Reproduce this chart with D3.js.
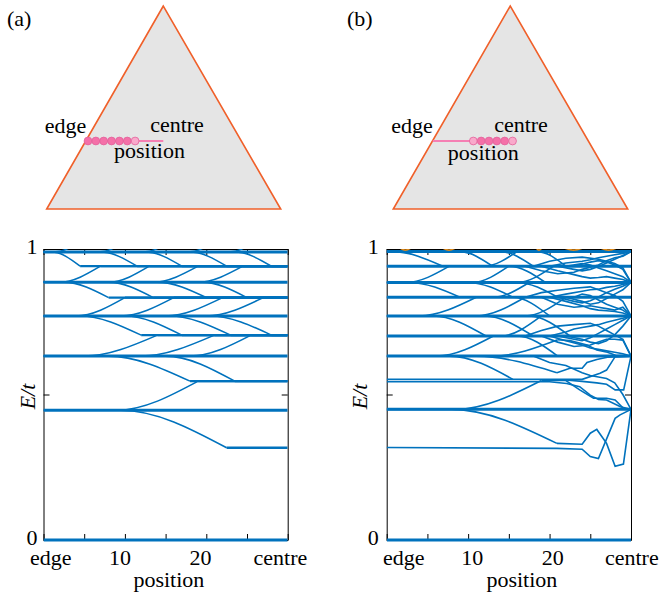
<!DOCTYPE html>
<html>
<head>
<meta charset="utf-8">
<script src="https://cdn.jsdelivr.net/npm/d3@7"></script>
<style>
  body { margin: 0; background: #fff; }
  text { font-family: "Liberation Serif", "Tinos", "Times New Roman", "DejaVu Serif", serif; font-size: 22px; fill: #000; }
</style>
</head>
<body>
<svg id="fig" width="661" height="597" font-family="Liberation Serif, Tinos, Times New Roman, DejaVu Serif, serif"></svg>
<script>
// ---- data ----
// position along the chain runs 0 (edge) .. 30 (centre), energy E/t runs 0 .. 1
const posTicks = [0, 5, 10, 15, 20, 25, 30];
const energyTicks = [0, 0.5, 1];
const energyLabels = ["0", "1"];
const xLabels = ["edge", "10", "20", "centre"];
const xLabelPosA = [0.9, 9.4, 19.3, 29.1];
const xLabelPosB = [2.1, 10.5, 20.4, 30.1];

// panel (a): levels that stay flat the whole way
const flatA = [0.990, 0.886, 0.770, 0.632, 0.446, 0];
// panel (a): branches peeling off a level [E start, pos start, E end, pos end]
const branchA = [
  [0.990, 1.0, 0.941, 4.5], [0.990, 7.0, 0.941, 11.5], [0.990, 12.5, 0.941, 17.0], [0.990, 18.0, 0.941, 22.5], [0.990, 23.5, 0.941, 28.0],
  [0.990, 1.5, 1.040, 5.0], [0.990, 7.0, 1.040, 10.5], [0.990, 12.5, 1.040, 16.0], [0.990, 18.0, 1.040, 21.5], [0.990, 23.0, 1.040, 26.5],
  [0.886, 2.0, 0.941, 7.0], [0.886, 8.0, 0.941, 13.0], [0.886, 13.5, 0.941, 19.0], [0.886, 19.0, 0.941, 24.5],
  [0.886, 2.5, 0.833, 8.0], [0.886, 8.0, 0.833, 13.5], [0.886, 14.0, 0.833, 20.0], [0.886, 19.5, 0.833, 25.0],
  [0.770, 4.0, 0.833, 10.0], [0.770, 9.5, 0.833, 16.0], [0.770, 15.0, 0.833, 22.0], [0.770, 20.0, 0.833, 27.0],
  [0.770, 4.5, 0.704, 12.0], [0.770, 10.0, 0.704, 17.0], [0.770, 15.5, 0.704, 23.0], [0.770, 20.5, 0.704, 28.0],
  [0.632, 5.0, 0.704, 14.0], [0.632, 12.0, 0.704, 21.0], [0.632, 18.0, 0.704, 25.5],
  [0.632, 8.0, 0.546, 18.0], [0.632, 15.0, 0.546, 23.5],
  [0.446, 9.0, 0.546, 19.0], [0.446, 9.5, 0.317, 22.5]
];

// panel (b)
const flatB = [0.991, 0.941, 0.885, 0.834, 0.770, 0.701, 0.632, 0.449, 0];
const branchB = [
  [0.991, 0.8, 0.941, 6.9], [0.991, 9.0, 0.941, 13.0], [0.991, 14.0, 0.941, 18.0], [0.991, 18.5, 0.941, 22.0],
  [0.885, 2.4, 0.941, 7.7], [0.885, 10.5, 0.941, 15.0], [0.885, 16.0, 0.941, 20.5],
  [0.885, 2.8, 0.834, 9.0], [0.885, 10.0, 0.834, 15.5], [0.885, 16.0, 0.834, 21.0],
  [0.770, 4.0, 0.834, 11.0], [0.770, 11.0, 0.834, 17.0], [0.770, 17.0, 0.834, 22.0],
  [0.770, 5.7, 0.701, 12.2], [0.770, 12.0, 0.701, 18.0], [0.770, 17.5, 0.701, 22.5],
  [0.632, 6.1, 0.701, 13.1], [0.632, 13.0, 0.688, 21.0],
  [0.632, 7.7, 0.552, 15.5], [0.632, 11.0, 0.575, 20.9],
  [0.449, 8.5, 0.548, 19.0], [0.449, 8.0, 0.332, 20.9],
  [0.941, 12.0, 0.991, 16.0], [0.834, 13.0, 0.885, 17.5], [0.701, 14.0, 0.770, 19.0],
  [0.941, 15.0, 0.885, 19.5], [0.834, 15.5, 0.770, 20.0], [0.701, 16.0, 0.632, 21.0]
];
// panel (b): jagged tails near the centre, [pos, E] samples
const tailB = [
  [[20, 0.941], [22, 0.952], [24, 0.958], [25, 0.963], [26, 0.970], [27, 0.975], [28, 0.980], [29, 0.985], [30, 0.991]],
  [[21, 0.941], [23, 0.930], [24, 0.925], [25, 0.930], [26, 0.940], [27, 0.952], [28, 0.965], [29, 0.978], [30, 0.991]],
  [[19, 0.941], [21, 0.925], [23, 0.912], [24, 0.905], [25, 0.900], [26, 0.902], [27, 0.905], [28, 0.900], [29, 0.895], [30, 0.885]],
  [[22, 0.941], [24, 0.950], [25, 0.945], [26, 0.935], [27, 0.925], [28, 0.915], [29, 0.905], [30, 0.885]],
  [[17, 0.941], [19, 0.925], [21, 0.915], [23, 0.920], [24, 0.930], [26, 0.945], [27, 0.960], [28, 0.970], [29, 0.975], [30, 0.991]],
  [[23, 0.941], [25, 0.955], [26, 0.960], [27, 0.955], [28, 0.945], [29, 0.930], [30, 0.885]],
  [[18, 0.941], [20, 0.958], [22, 0.968], [24, 0.972], [26, 0.965], [27, 0.958], [28, 0.950], [29, 0.935], [30, 0.885]],
  [[20, 0.834], [22, 0.845], [24, 0.855], [25, 0.860], [26, 0.862], [27, 0.868], [28, 0.872], [29, 0.878], [30, 0.885]],
  [[21, 0.834], [23, 0.820], [24, 0.815], [25, 0.822], [26, 0.835], [27, 0.850], [28, 0.862], [29, 0.872], [30, 0.885]],
  [[20, 0.834], [22, 0.820], [24, 0.805], [25, 0.795], [26, 0.790], [27, 0.788], [28, 0.785], [29, 0.780], [30, 0.770]],
  [[23, 0.834], [24, 0.845], [25, 0.840], [26, 0.825], [27, 0.810], [28, 0.800], [29, 0.790], [30, 0.770]],
  [[17, 0.834], [19, 0.850], [21, 0.858], [23, 0.865], [25, 0.870], [26, 0.860], [27, 0.850], [28, 0.840], [29, 0.820], [30, 0.770]],
  [[22, 0.834], [24, 0.820], [25, 0.810], [26, 0.815], [27, 0.830], [28, 0.845], [29, 0.860], [30, 0.885]],
  [[19, 0.834], [21, 0.810], [23, 0.800], [25, 0.805], [26, 0.800], [27, 0.795], [28, 0.790], [29, 0.800], [30, 0.770]],
  [[20, 0.701], [22, 0.715], [23, 0.725], [24, 0.730], [25, 0.735], [26, 0.740], [27, 0.748], [28, 0.755], [29, 0.762], [30, 0.770]],
  [[21, 0.701], [23, 0.690], [24, 0.685], [25, 0.695], [26, 0.710], [27, 0.725], [28, 0.740], [29, 0.755], [30, 0.770]],
  [[20, 0.701], [22, 0.685], [24, 0.670], [25, 0.660], [26, 0.655], [27, 0.650], [28, 0.645], [29, 0.640], [30, 0.632]],
  [[21, 0.688], [22.5, 0.685], [24.6, 0.670], [25.8, 0.653], [27.1, 0.645], [28.1, 0.635], [30, 0.632]],
  [[17, 0.701], [19, 0.720], [21, 0.735], [23, 0.740], [25, 0.745], [26, 0.735], [27, 0.720], [28, 0.705], [29, 0.690], [30, 0.632]],
  [[22, 0.701], [24, 0.690], [25, 0.680], [26, 0.675], [27, 0.685], [28, 0.705], [29, 0.735], [30, 0.770]],
  [[19, 0.701], [21, 0.680], [23, 0.665], [25, 0.670], [26, 0.680], [27, 0.690], [28, 0.690], [29, 0.687], [30, 0.632]],
  [[20.9, 0.575], [22.5, 0.590], [24, 0.590], [24.6, 0.610], [25.8, 0.620], [27.1, 0.628], [30, 0.632]],
  [[18, 0.632], [20, 0.610], [22, 0.600], [24, 0.575], [25, 0.565], [26, 0.560], [27, 0.555], [28, 0.540], [29, 0.500], [30, 0.449]],
  [[0, 0.552], [24, 0.552], [26.2, 0.573], [27, 0.584], [28.05, 0.630], [30, 0.632]],
  [[0, 0.544], [20, 0.544], [22.1, 0.538], [23.7, 0.527], [25, 0.498], [26, 0.483], [27, 0.481], [28.7, 0.458], [30, 0.449]],
  [[19, 0.548], [22, 0.548], [23.7, 0.516], [25.4, 0.487], [27, 0.487], [28.05, 0.481], [29.1, 0.452], [30, 0.449]],
  [[22, 0.550], [24, 0.545], [25.8, 0.540], [27, 0.535], [28.05, 0.516], [29.1, 0.516], [30, 0.632]],
  [[20.9, 0.332], [24, 0.329], [25, 0.367], [25.8, 0.380], [27, 0.332], [28.05, 0.253], [29.07, 0.261], [30, 0.449]],
  [[0, 0.318], [20.9, 0.315], [24, 0.312], [25, 0.287], [26, 0.280], [28.05, 0.418], [28.66, 0.430], [30, 0.449]]
];
// panel (b): orange levels just poking below E = 1 [pos from, pos to]
const orangeB = [[1.3, 3.3], [6.5, 8.8], [18.2, 19.2], [21.3, 24.6], [25.8, 28.7]];

// ---- drawing ----
const blue = "#0072bd";
const serif = "Liberation Serif, Tinos, Times New Roman, DejaVu Serif, serif";
const svg = d3.select("#fig");
const defs = svg.append("defs");

const panels = [
  { key: "a", x0: 43.5, x1: 287.7, flat: flatA, branch: branchA, tail: [], orange: [], labelPos: xLabelPosA,
    tickGap: 6, eLabelX: 35, posLabel: 15.4, tri: [[163.3, 6], [46.7, 209], [280.7, 209]],
    wire: [86, 163.3], beads: 7, bead0: 88, light: [6],
    words: { edge: [65.5, 132.5], centre: [177, 132], position: [149.5, 158] }, tag: [7, 26] },
  { key: "b", x0: 386.7, x1: 631, flat: flatB, branch: branchB, tail: tailB, orange: orangeB, labelPos: xLabelPosB,
    tickGap: 8, eLabelX: 367, posLabel: 16.6, tri: [[510.3, 6], [393.3, 209], [627.7, 209]],
    wire: [432.7, 473.3], beads: 6, bead0: 473.3, light: [0, 5],
    words: { edge: [412, 132.5], centre: [521, 132], position: [483.3, 160] }, tag: [347, 26] }
];

panels.forEach(p => {
  const x = d3.scaleLinear().domain([0, 30]).range([p.x0, p.x1]);
  const y = d3.scaleLinear().domain([0, 1]).range([540, 249]);
  const g = svg.append("g");
  const label = (sel) => sel.attr("font-family", serif).attr("font-size", 22);

  // sketch of the triangle and the chain
  g.append("polygon")
    .attr("points", p.tri.map(d => d.join(",")).join(" "))
    .attr("fill", "#e5e5e5").attr("stroke", "#f0602a").attr("stroke-width", 1.6);
  g.append("line")
    .attr("x1", p.wire[0]).attr("x2", p.wire[1]).attr("y1", 141).attr("y2", 141)
    .attr("stroke", "#f57fb3").attr("stroke-width", 2);
  g.selectAll("circle.bead").data(d3.range(p.beads)).join("circle")
    .attr("class", "bead")
    .attr("cx", i => p.bead0 + i * 7.85).attr("cy", 141).attr("r", 3.9)
    .attr("fill", i => p.light.includes(i) ? "#f9a9cb" : "#f470a8")
    .attr("stroke", "#e2639c").attr("stroke-width", 0.8);
  Object.entries(p.words).forEach(([w, xy]) => {
    g.append("text").call(label).attr("x", xy[0]).attr("y", xy[1]).attr("text-anchor", "middle").text(w);
  });
  g.append("text").call(label).attr("x", p.tag[0]).attr("y", p.tag[1]).text("(" + p.key + ")");

  // axes box with inward ticks
  const noText = a => a.selectAll("text").remove();
  g.append("g").attr("transform", "translate(0,540)")
    .call(d3.axisBottom(x).tickValues(posTicks).tickSizeInner(-6).tickSizeOuter(0)).call(noText);
  g.append("g").attr("transform", "translate(0,249)")
    .call(d3.axisTop(x).tickValues(posTicks).tickSizeInner(-6).tickSizeOuter(0)).call(noText);
  g.append("g").attr("transform", `translate(${p.x0},0)`)
    .call(d3.axisLeft(y).tickValues(energyTicks).tickSizeInner(-6).tickSizeOuter(0)).call(noText);
  g.append("g").attr("transform", `translate(${p.x1},0)`)
    .call(d3.axisRight(y).tickValues(energyTicks).tickSizeInner(-6).tickSizeOuter(0)).call(noText);
  g.selectAll(".domain, .tick line").attr("stroke", "#000").attr("stroke-width", 1);

  // data, clipped to the box
  defs.append("clipPath").attr("id", "clip-" + p.key).append("rect")
    .attr("x", p.x0).attr("y", 249).attr("width", p.x1 - p.x0).attr("height", 293);
  const plot = g.append("g").attr("clip-path", `url(#clip-${p.key})`).attr("fill", "none");
  const smooth = d3.line().x(d => x(d[0])).y(d => y(d[1])).curve(d3.curveMonotoneX);
  const straight = d3.line().x(d => x(d[0])).y(d => y(d[1]));

  plot.selectAll("path.branch").data(p.branch).join("path")
    .attr("class", "branch")
    .attr("d", d => smooth([[0, d[0]], [d[1], d[0]], [d[3], d[2]]]))
    .attr("stroke", blue).attr("stroke-width", 1.6);
  // where a branch settles on a level it stays there up to the centre
  plot.selectAll("path.settle").data(p.branch.filter(d => p.key === "a" || p.flat.includes(d[2]))).join("path")
    .attr("class", "settle")
    .attr("d", d => straight([[d[3], d[2]], [30, d[2]]]))
    .attr("stroke", blue).attr("stroke-width", p.key === "a" ? 2.4 : 1.6);

  plot.selectAll("path.tail").data(p.tail).join("path")
    .attr("class", "tail")
    .attr("d", straight)
    .attr("stroke", blue).attr("stroke-width", 1.6).attr("stroke-linejoin", "miter");

  plot.selectAll("path.flat").data(p.flat).join("path")
    .attr("class", "flat")
    .attr("d", e => straight([[0, e], [30, e]]))
    .attr("stroke", blue).attr("stroke-width", 3);

  // orange levels sit just under the top frame, above the blue top level
  plot.selectAll("path.orange").data(p.orange).join("path")
    .attr("class", "orange")
    .attr("d", d => smooth([[d[0], 1.01], [(d[0] + d[1]) / 2, 0.996], [d[1], 1.01]]))
    .attr("stroke", "#dd8a1c").attr("stroke-width", 1.8);

  // tick labels and axis titles
  g.selectAll("text.ylab").data(energyLabels).join("text")
    .attr("class", "ylab").call(label)
    .attr("x", p.x0 - p.tickGap).attr("y", d => y(+d) + 5)
    .attr("text-anchor", "end").text(d => d);
  g.selectAll("text.xlab").data(xLabels).join("text")
    .attr("class", "xlab").call(label)
    .attr("x", (d, i) => x(p.labelPos[i])).attr("y", 565)
    .attr("text-anchor", "middle").text(d => d);
  g.append("text").call(label).attr("x", x(p.posLabel)).attr("y", 587)
    .attr("text-anchor", "middle").text("position");
  g.append("text").call(label)
    .attr("transform", `translate(${p.eLabelX},${y(0.5) + 2}) rotate(-90)`)
    .attr("text-anchor", "middle").attr("font-style", "italic").text("E/t");
});
</script>
</body>
</html>
